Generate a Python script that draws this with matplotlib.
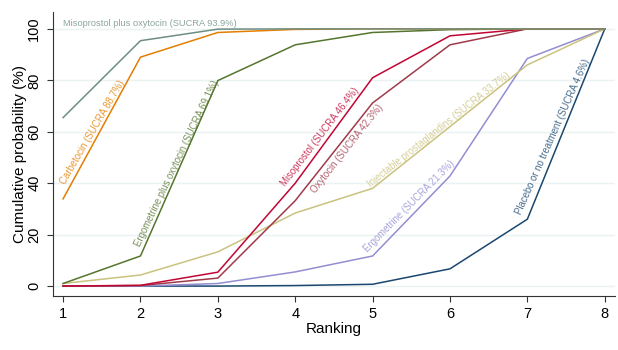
import matplotlib.pyplot as plt

plt.rcParams['font.family'] = ['Liberation Sans', 'DejaVu Sans']

# Cumulative ranking probabilities (%) by rank 1..8
ranks = [1, 2, 3, 4, 5, 6, 7, 8]
placebo = [0, 0, 0, 0.2, 0.7, 6.7, 26, 100]
ergometrine = [0, 0, 1, 5.5, 11.7, 42.8, 88.5, 100]
injectable = [1, 4.3, 13.3, 28.4, 38, 62, 86, 100]
oxytocin = [0, 0.2, 3.1, 33.2, 71.2, 93.8, 100, 100]
misoprostol = [0, 0.3, 5.4, 40, 81, 97.3, 100, 100]
ergo_oxy = [1, 11.7, 79.9, 93.8, 98.6, 99.7, 100, 100]
carbetocin = [33.9, 89, 98.6, 99.8, 100, 100, 100, 100]
miso_oxy = [65.5, 95.4, 99.9, 100, 100, 100, 100, 100]

names = ['Placebo or no treatment (SUCRA 4.6%)',
         'Ergometrine (SUCRA 21.3%)',
         'Injectable prostaglandins (SUCRA 33.7%)',
         'Oxytocin (SUCRA 42.3%)',
         'Misoprostol (SUCRA 46.4%)',
         'Ergometrine plus oxytocin (SUCRA 69.1%)',
         'Carbetocin (SUCRA 88.7%)',
         'Misoprostol plus oxytocin (SUCRA 93.9%)']
series = [placebo, ergometrine, injectable, oxytocin, misoprostol,
          ergo_oxy, carbetocin, miso_oxy]
colors = ['#1a476f', '#938dd2', '#cac27e', '#a03a4a', '#c10534',
          '#55752f', '#e37e00', '#6e8e84']

# label placement: rank the label starts at, pixel offset, angle
label_rank = [7, 5, 5, 4, 4, 2, 1, 1]
label_off = [(-4, 3), (-3.6, 1.6), (-0.8, -0.6), (22, 5.8), (-8.4, -5.2),
             (1.8, 8.1), (3.5, 13), (0, 0)]
label_rot = [66, 45.3, 38.4, 51.8, 52.5, 64.5, 59.8, 0]

fig = plt.figure(figsize=(6.18, 3.5), dpi=100)
ax = fig.add_axes([0.0858, 0.154, 0.909, 0.812])

for y, c in zip(series, colors):
    ax.plot(ranks, y, color=c, lw=1.1, zorder=3)

for name, y, c, r, off, rot in zip(names, series, colors, label_rank,
                                   label_off, label_rot):
    if rot == 0:
        ax.text(1, 100.5, name, color=c, alpha=0.8, fontsize=6.7,
                ha='left', va='bottom')
        continue
    ax.annotate(name, (r, y[r - 1]), xytext=off, textcoords='offset pixels',
                color=c, alpha=0.8, fontsize=6.9, rotation=rot,
                rotation_mode='anchor', ha='left', va='bottom')

ax.set_xlim(0.87, 8.13)
ax.set_ylim(-3.9, 106.6)
ax.set_xticks(ranks)
ax.set_yticks([0, 20, 40, 60, 80, 100])
ax.tick_params(axis='y', labelrotation=90, labelsize=10.5, length=4, width=0.8,
               color='#333333', pad=4.5)
ax.tick_params(axis='x', labelsize=10.5, length=4, width=0.8, color='#333333')
for lab in ax.get_yticklabels():
    lab.set_va('center')
ax.grid(axis='y', color='#eaf2f3', lw=1.0, zorder=0)
for s in ['top', 'right']:
    ax.spines[s].set_visible(False)
for s in ['left', 'bottom']:
    ax.spines[s].set_color('#333333')
    ax.spines[s].set_linewidth(0.8)

ax.set_xlabel('Ranking', fontsize=11, labelpad=1)
ax.set_ylabel('Cumulative probability (%)', fontsize=11, labelpad=0)

fig.savefig('out.png', dpi=100)
